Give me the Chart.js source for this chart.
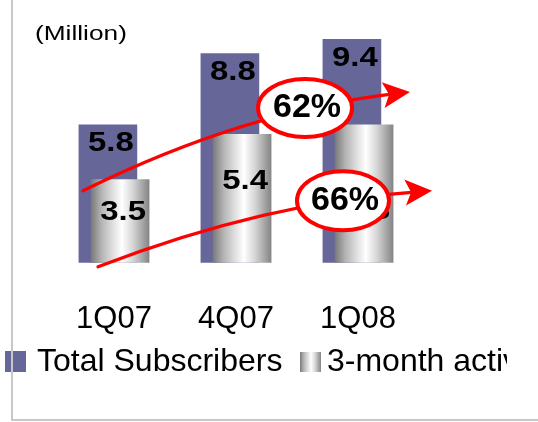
<!DOCTYPE html>
<html>
<head>
<meta charset="utf-8">
<script src="https://cdn.jsdelivr.net/npm/chart.js@4/dist/chart.umd.min.js"></script>
<style>
  html, body { margin: 0; padding: 0; background: #fff; }
  canvas { display: block; }
</style>
</head>
<body>
<canvas id="subsChart" width="538" height="422"></canvas>
<script>
// Data
const categories = ["1Q07", "4Q07", "1Q08"];
const totalSubs = [5.8, 8.8, 9.4];
const activeSubs = [3.5, 5.4, 5.8];
const seriesNames = ["Total Subscribers", "3-month active subscribers"];
const unitLabel = "(Million)";

// Bars overlap: each series is nudged half a step off the category centre
const BAR_SHIFT = 0.05;
const BAR_WIDTH = 58;

// Where the active-subscriber label sits inside its bar (fraction of bar height)
const activeLabelDrop = [0.38, 0.36, 0.62];

// Growth arrows, in (category index, value) space
const growthArrows = [
  { from: totalSubs, p0: [-0.254, 3.03], p1: [1.078, 6.41], p2: [2.426, 7.18],
    oval: [1.566, 6.51], rx: 47, ry: 29 },
  { from: activeSubs, p0: [-0.131, -0.17], p1: [1.238, 2.56], p2: [2.607, 3.03],
    oval: [1.877, 2.61], rx: 46, ry: 29.5 }
];

const RED = "#ff0000";
const PURPLE = "#666699";

function cylinderFill(ctx, x0, x1) {
  const g = ctx.createLinearGradient(x0, 0, x1, 0);
  g.addColorStop(0, "#7a7a7a");
  g.addColorStop(0.18, "#b4b4b4");
  g.addColorStop(0.38, "#e0e0e0");
  g.addColorStop(0.53, "#ffffff");
  g.addColorStop(0.72, "#d6d6d6");
  g.addColorStop(1, "#858585");
  return g;
}

function barFill(c) {
  const chart = c.chart;
  const xs = chart.scales.x;
  if (!xs || !chart.chartArea || c.type !== "data") return "#cccccc";
  const cx = xs.getPixelForValue(c.parsed.x);
  return cylinderFill(chart.ctx, cx - BAR_WIDTH / 2, cx + BAR_WIDTH / 2);
}

function points(values, shift) {
  return values.map((v, i) => ({ x: i + shift, y: v }));
}

// Text squeezed wide, as the slide fonts are
function wideText(ctx, text, x, y, stretch) {
  ctx.save();
  ctx.translate(x, y);
  ctx.scale(stretch, 1);
  ctx.fillText(text, 0, 0);
  ctx.restore();
}

// Value labels on the bars
const valueLabels = {
  id: "valueLabels",
  afterDatasetsDraw(chart) {
    const ctx = chart.ctx;
    ctx.save();
    ctx.font = "bold 27px 'Liberation Sans'";
    ctx.fillStyle = "#000";
    ctx.textAlign = "center";
    ctx.textBaseline = "middle";
    chart.data.datasets.forEach((ds, di) => {
      chart.getDatasetMeta(di).data.forEach((bar, i) => {
        const h = bar.base - bar.y;
        const y = di === 0 ? bar.y + 18 : bar.y + h * activeLabelDrop[i];
        wideText(ctx, ds.data[i].y.toFixed(1), bar.x + 3, y + 1, 1.22);
      });
    });
    ctx.restore();
  }
};

// Growth arrows with percentage ovals, unit label, legend and frame
const decorations = {
  id: "decorations",
  afterDraw(chart) {
    const ctx = chart.ctx;
    const xs = chart.scales.x, ys = chart.scales.y;
    const pt = p => [xs.getPixelForValue(p[0]), ys.getPixelForValue(p[1])];

    growthArrows.forEach(a => {
      const [x0, y0] = pt(a.p0), [x1, y1] = pt(a.p1), [x2, y2] = pt(a.p2);
      let dx = x2 - x1, dy = y2 - y1;
      const len = Math.hypot(dx, dy);
      dx /= len; dy /= len;
      const headL = 27, headW = 13;

      ctx.save();
      ctx.strokeStyle = RED;
      ctx.lineWidth = 3.2;
      ctx.lineCap = "round";
      ctx.beginPath();
      ctx.moveTo(x0, y0);
      ctx.quadraticCurveTo(x1, y1, x2 - dx * 12, y2 - dy * 12);
      ctx.stroke();

      // arrow head
      const bx = x2 - dx * headL, by = y2 - dy * headL;
      ctx.fillStyle = RED;
      ctx.beginPath();
      ctx.moveTo(x2, y2);
      ctx.lineTo(bx - dy * headW, by + dx * headW);
      ctx.lineTo(x2 - dx * (headL - 6), y2 - dy * (headL - 6));
      ctx.lineTo(bx + dy * headW, by - dx * headW);
      ctx.closePath();
      ctx.fill();

      // oval with growth rate
      const [ox, oy] = pt(a.oval);
      ctx.beginPath();
      ctx.ellipse(ox, oy, a.rx, a.ry, 0, 0, Math.PI * 2);
      ctx.fillStyle = "#fff";
      ctx.fill();
      ctx.lineWidth = 4;
      ctx.stroke();

      const s = a.from;
      const growth = Math.round((s[s.length - 1] / s[0] - 1) * 100);
      ctx.fillStyle = "#000";
      ctx.font = "bold 34px 'Liberation Sans'";
      ctx.textAlign = "center";
      ctx.textBaseline = "middle";
      ctx.fillText(growth + "%", ox + 2, oy);
      ctx.restore();
    });

    // unit label
    ctx.save();
    ctx.fillStyle = "#000";
    ctx.font = "21px 'Liberation Sans'";
    ctx.textBaseline = "alphabetic";
    wideText(ctx, unitLabel, 35, 40, 1.25);

    // legend, cut off at the right
    ctx.beginPath();
    ctx.rect(0, 330, 507, 60);
    ctx.clip();
    ctx.font = "32px 'Liberation Sans'";
    ctx.fillStyle = PURPLE;
    ctx.fillRect(5, 351, 21, 21);
    ctx.fillStyle = "#000";
    ctx.fillText(seriesNames[0], 37, 371);
    ctx.fillStyle = cylinderFill(ctx, 300, 321);
    ctx.fillRect(300, 352, 21, 20);
    ctx.fillStyle = "#000";
    ctx.fillText(seriesNames[1], 327, 371);
    ctx.restore();

    // frame
    ctx.save();
    ctx.strokeStyle = "#c8c8c8";
    ctx.lineWidth = 2;
    ctx.beginPath();
    ctx.moveTo(12, 0);
    ctx.lineTo(12, 420);
    ctx.lineTo(538, 420);
    ctx.stroke();
    ctx.restore();
  }
};

const ctx = document.getElementById("subsChart").getContext("2d");

new Chart(ctx, {
  type: "bar",
  data: {
    datasets: [
      {
        label: seriesNames[0],
        data: points(totalSubs, -BAR_SHIFT),
        backgroundColor: PURPLE,
        borderWidth: 0,
        grouped: false,
        barThickness: BAR_WIDTH,
        order: 2
      },
      {
        label: seriesNames[1],
        data: points(activeSubs, BAR_SHIFT),
        backgroundColor: barFill,
        borderWidth: 0,
        grouped: false,
        barThickness: BAR_WIDTH,
        order: 1
      }
    ]
  },
  options: {
    responsive: false,
    animation: false,
    events: [],
    layout: { padding: { left: 53, right: 119, top: 25, bottom: 46 } },
    plugins: {
      legend: { display: false },
      tooltip: { enabled: false }
    },
    scales: {
      x: {
        type: "linear",
        offset: false,
        min: -0.5,
        max: 2.5,
        afterBuildTicks: axis => {
          axis.ticks = categories.map((c, i) => ({ value: i }));
        },
        grid: { display: false, drawTicks: false },
        border: { display: false },
        ticks: {
          color: "#000",
          padding: 38,
          autoSkip: false,
          maxRotation: 0,
          callback: v => categories[v],
          font: { family: "'Liberation Sans'", size: 31 }
        }
      },
      y: {
        display: false,
        min: 0,
        max: 10
      }
    }
  },
  plugins: [valueLabels, decorations]
});
</script>
</body>
</html>
